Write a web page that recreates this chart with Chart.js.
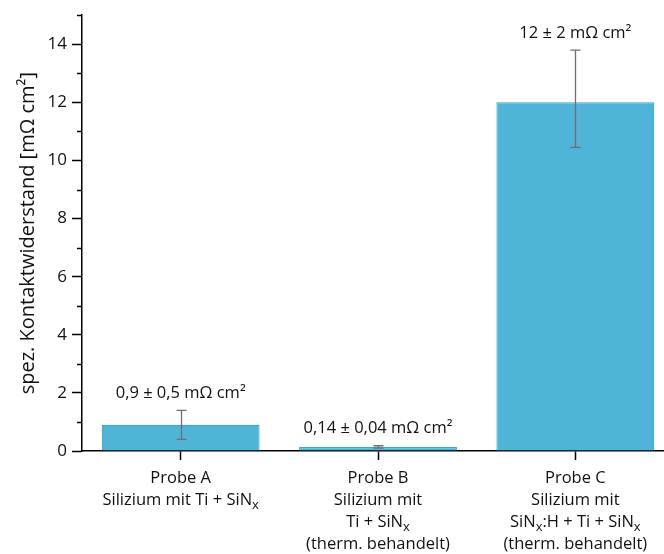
<!DOCTYPE html>
<html>
<head>
<meta charset="utf-8">
<script src="https://cdn.jsdelivr.net/npm/chart.js@4.4.1/dist/chart.umd.min.js"></script>
<style>
  html, body { margin: 0; padding: 0; background: #fff; overflow: hidden; }
  #wrap { width: 676px; height: 554px; position: relative; }
</style>
</head>
<body>
<div id="wrap"><canvas id="kontaktChart"></canvas></div>
<script>
// samples and measured contact resistance (mOhm cm^2)
const categories = ['Probe A', 'Probe B', 'Probe C'];
const values = [0.9, 0.14, 12];
const errLow = [0.4, 0.10, 10.45];
const errHigh = [1.4, 0.18, 13.8];

// multi-line axis labels, "_x" marks a subscript x
const categoryLines = [
    ['Probe A', 'Silizium mit Ti + SiN_x'],
    ['Probe B', 'Silizium mit', 'Ti + SiN_x', '(therm. behandelt)'],
    ['Probe C', 'Silizium mit', 'SiN_x:H + Ti + SiN_x', '(therm. behandelt)']
];
const valueLabels = ['0,9 ± 0,5 mΩ cm²', '0,14 ± 0,04 mΩ cm²', '12 ± 2 mΩ cm²'];

const yMin = 0;
const yMax = 15;
const yStep = 1;
const yTitle = 'spez. Kontaktwiderstand [mΩ cm²]';

const FONT = '"Open Sans", "DejaVu Sans", sans-serif';
const TEXT = '#111';

function drawRich(ctx, text, cx, cy, size) {
    const parts = text.split(/(_x)/).filter(p => p.length);
    const subSize = Math.round(size * 0.8);
    let total = 0;
    const widths = parts.map(p => {
        ctx.font = p === '_x' ? `${subSize}px ${FONT}` : `${size}px ${FONT}`;
        const w = ctx.measureText(p === '_x' ? 'x' : p).width;
        total += w;
        return w;
    });
    let x = cx - total / 2;
    ctx.textAlign = 'left';
    ctx.textBaseline = 'middle';
    parts.forEach((p, i) => {
        if (p === '_x') {
            ctx.font = `${subSize}px ${FONT}`;
            ctx.fillText('x', x, cy + size * 0.3);
        } else {
            ctx.font = `${size}px ${FONT}`;
            ctx.fillText(p, x, cy);
        }
        x += widths[i];
    });
}

const extras = {
    id: 'extras',
    afterDatasetsDraw(chart) {
        const { ctx, scales: { x, y } } = chart;
        const meta = chart.getDatasetMeta(0);
        ctx.save();

        // error bars
        ctx.strokeStyle = '#6e6e6e';
        ctx.lineWidth = 1.3;
        meta.data.forEach((bar, i) => {
            const px = Math.round(bar.x) + 0.5;
            const top = y.getPixelForValue(errHigh[i]);
            const bot = y.getPixelForValue(errLow[i]);
            ctx.beginPath();
            ctx.moveTo(px, top); ctx.lineTo(px, bot);
            ctx.moveTo(px - 5, top); ctx.lineTo(px + 5, top);
            ctx.moveTo(px - 5, bot); ctx.lineTo(px + 5, bot);
            ctx.stroke();
        });

        // value labels above the error bars
        ctx.fillStyle = TEXT;
        ctx.textAlign = 'center';
        ctx.textBaseline = 'middle';
        ctx.font = `16.5px ${FONT}`;
        meta.data.forEach((bar, i) => {
            ctx.fillText(valueLabels[i], bar.x, y.getPixelForValue(errHigh[i]) - 17);
        });

        // minor ticks on the odd values
        ctx.strokeStyle = '#000';
        ctx.lineWidth = 1.5;
        y.ticks.forEach(t => {
            if (t.value % 2 !== 0) {
                const py = Math.round(y.getPixelForValue(t.value)) + 0.5;
                ctx.beginPath();
                ctx.moveTo(chart.chartArea.left - 5, py);
                ctx.lineTo(chart.chartArea.left, py);
                ctx.stroke();
            }
        });

        // category labels
        ctx.fillStyle = TEXT;
        categoryLines.forEach((lines, i) => {
            const cx = x.getPixelForTick(i);
            lines.forEach((line, j) => {
                drawRich(ctx, line, cx, y.bottom + 27 + j * 22, 16.5);
            });
        });
        ctx.restore();
    }
};

new Chart(document.getElementById('kontaktChart'), {
    type: 'bar',
    data: {
        labels: categories,
        datasets: [{
            data: values,
            backgroundColor: '#50b4d9',
            borderColor: '#3ba6d2',
            borderWidth: 1.2,
            barPercentage: 0.8,
            categoryPercentage: 1.0
        }]
    },
    options: {
        responsive: true,
        maintainAspectRatio: false,
        animation: false,
        layout: { padding: { top: 15, right: 2, left: 0, bottom: 0 } },
        plugins: { legend: { display: false }, tooltip: { enabled: false } },
        scales: {
            x: {
                offset: true,
                grid: { drawOnChartArea: false, offset: false, tickLength: 9, tickWidth: 1.5, tickColor: '#000' },
                border: { color: '#000', width: 1.5 },
                ticks: { display: false },
                afterFit(scale) { scale.height = 103; }
            },
            y: {
                min: yMin,
                max: yMax,
                grid: {
                    drawOnChartArea: false,
                    tickLength: 10,
                    tickWidth: 1.5,
                    tickColor: ctx => (ctx.tick && ctx.tick.value % 2 === 0) ? '#000' : 'rgba(0,0,0,0)'
                },
                border: { color: '#000', width: 1.5 },
                ticks: {
                    stepSize: yStep,
                    padding: 5,
                    color: TEXT,
                    font: { family: FONT, size: 17 },
                    callback: v => (v % 2 === 0 ? String(v) : '')
                },
                title: {
                    display: true,
                    text: yTitle,
                    color: TEXT,
                    font: { family: FONT, size: 20 },
                    padding: { top: 16, bottom: 0 }
                },
                afterFit(scale) { scale.width = 82; }
            }
        }
    },
    plugins: [extras]
});
</script>
</body>
</html>
